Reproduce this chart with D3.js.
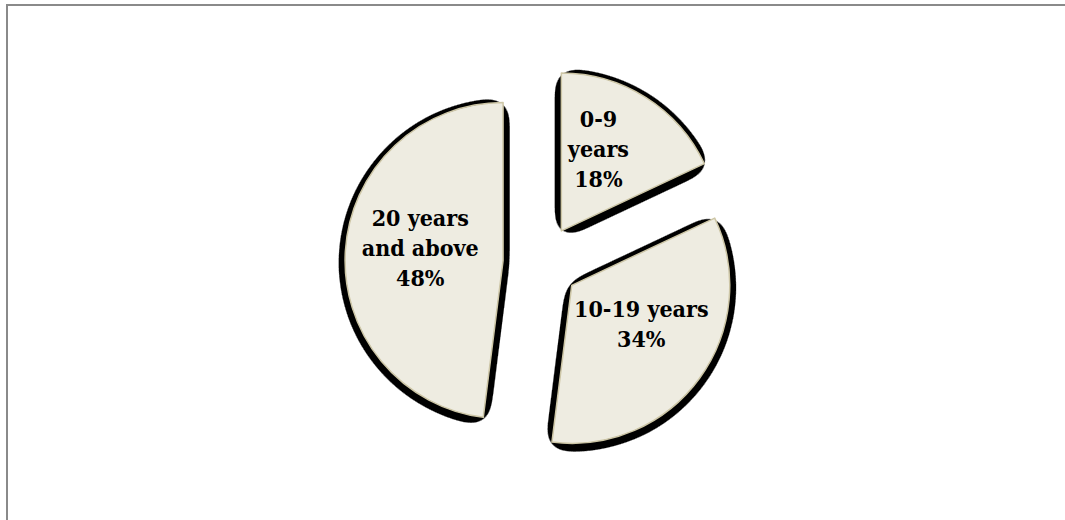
<!DOCTYPE html>
<html>
<head>
<meta charset="utf-8">
<script src="https://cdn.jsdelivr.net/npm/d3@7"></script>
<style>
  html, body { margin: 0; padding: 0; background: #fff; }
  svg { display: block; }
</style>
</head>
<body>
<svg id="chart" width="1065" height="520"></svg>
<script>
// Years of experience breakdown
const categories = ["0-9 years", "10-19 years", "20 years and above"];
const values = [18, 34, 48];
// how each category name wraps inside its slice
const labelLines = [["0-9", "years"], ["10-19 years"], ["20 years", "and above"]];
// fine placement of each label block relative to its slice
const labelOffsets = [[-9, -9], [0, -12], [3, -7]];

const W = 1065, H = 520;
const cx = 541, cy = 263;
const radius = 158;
const explode = 38;
const labelRadius = 86;
const fontSize = 23;
const lineHeight = 30;

const svg = d3.select("#chart");

// chart frame
svg.append("rect")
  .attr("x", 7).attr("y", 5)
  .attr("width", W + 20).attr("height", H + 20)
  .attr("fill", "none")
  .attr("stroke", "#8a8a8a")
  .attr("stroke-width", 2);

// hard-edged shadow: blurred alpha, shifted, then thresholded
const defs = svg.append("defs");
const f = defs.append("filter").attr("id", "sliceShadow")
  .attr("x", "-25%").attr("y", "-25%").attr("width", "150%").attr("height", "150%");
f.append("feGaussianBlur").attr("in", "SourceAlpha").attr("stdDeviation", 10).attr("result", "blur");
f.append("feOffset").attr("in", "blur").attr("dx", 0).attr("dy", 1.5).attr("result", "off");
const ct = f.append("feComponentTransfer").attr("in", "off");
ct.append("feFuncA").attr("type", "linear").attr("slope", 25).attr("intercept", -5.75);

const pie = d3.pie().sort(null).value(d => d);
const arcs = pie(values);
const arc = d3.arc().innerRadius(0).outerRadius(radius);

const g = svg.append("g").attr("transform", `translate(${cx},${cy})`);

function shift(d, dist) {
  const a = (d.startAngle + d.endAngle) / 2;
  return [Math.sin(a) * dist, -Math.cos(a) * dist];
}

const slices = g.selectAll("g.slice")
  .data(arcs)
  .join("g")
  .attr("class", "slice")
  .attr("transform", d => { const [x, y] = shift(d, explode); return `translate(${x},${y})`; });

slices.append("path")
  .attr("d", arc)
  .attr("fill", "#000")
  .attr("filter", "url(#sliceShadow)");

slices.append("path")
  .attr("d", arc)
  .attr("fill", "#eeece1")
  .attr("stroke", "#cdc6a6")
  .attr("stroke-width", 1.5)
  .attr("stroke-linejoin", "round");

slices.each(function(d, i) {
  const [lx, ly] = shift(d, labelRadius);
  const [ox, oy] = labelOffsets[i];
  const lines = labelLines[i].concat([values[i] + "%"]);
  const n = lines.length;
  const t = d3.select(this).append("text")
    .attr("text-anchor", "middle")
    .attr("font-family", "'DejaVu Serif Condensed', 'DejaVu Serif', serif")
    .attr("font-stretch", "condensed")
    .attr("font-weight", "bold")
    .attr("font-size", fontSize)
    .attr("fill", "#000");
  lines.forEach((s, k) => {
    t.append("tspan")
      .attr("x", lx + ox)
      .attr("y", ly + oy + (k - (n - 1) / 2) * lineHeight + 0.35 * fontSize)
      .text(s);
  });
});
</script>
</body>
</html>
